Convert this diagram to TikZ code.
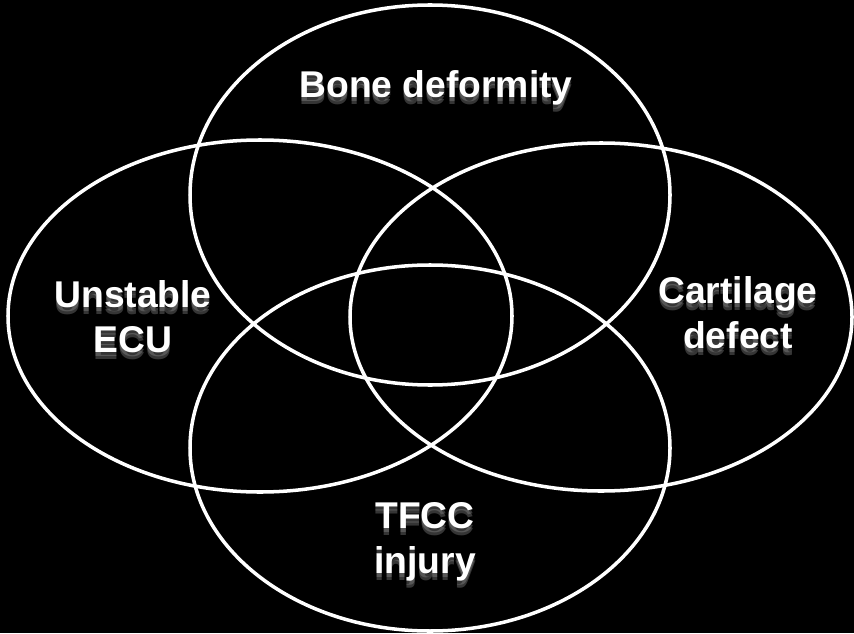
\documentclass[tikz,border=0pt]{standalone}
\usepackage{fontspec}
\setmainfont{Liberation Sans}

\begin{document}
\begin{tikzpicture}[x=0.02cm, y=0.02cm, ring/.style={draw=white, line width=2pt}, tag/.style={text=white, align=center, font=\bfseries\fontsize{21.2}{25.6}\selectfont}, haze/.style={tag, text=gray!80, opacity=0.35}]
\fill[black] (0,0) rectangle (854,633);
\useasboundingbox (0,0) rectangle (854,633);
\draw[ring] (430,438) ellipse (240 and 190);
\draw[ring] (260,317) ellipse (252 and 176);
\draw[ring] (601,316) ellipse (251 and 174);
\draw[ring] (430,185) ellipse (240 and 183);
\node (bone-h1) [haze] at (436,541) {Bone deformity};
\node (bone-h2) [haze] at (436,538) {Bone deformity};
\node (bone) [tag] at (436,545) {Bone deformity};
\node (ecu-h1) [haze] at (133,312) {Unstable\\ECU};
\node (ecu-h2) [haze] at (133,309) {Unstable\\ECU};
\node (ecu) [tag] at (133,316) {Unstable\\ECU};
\node (cart-h1) [haze] at (738,316) {Cartilage\\defect};
\node (cart-h2) [haze] at (738,313) {Cartilage\\defect};
\node (cart) [tag] at (738,320) {Cartilage\\defect};
\node (tfcc-h1) [haze] at (425,87) {TFCC\\injury};
\node (tfcc-h2) [haze] at (425,84) {TFCC\\injury};
\node (tfcc) [tag] at (425,91) {TFCC\\injury};
\end{tikzpicture}
\end{document}
